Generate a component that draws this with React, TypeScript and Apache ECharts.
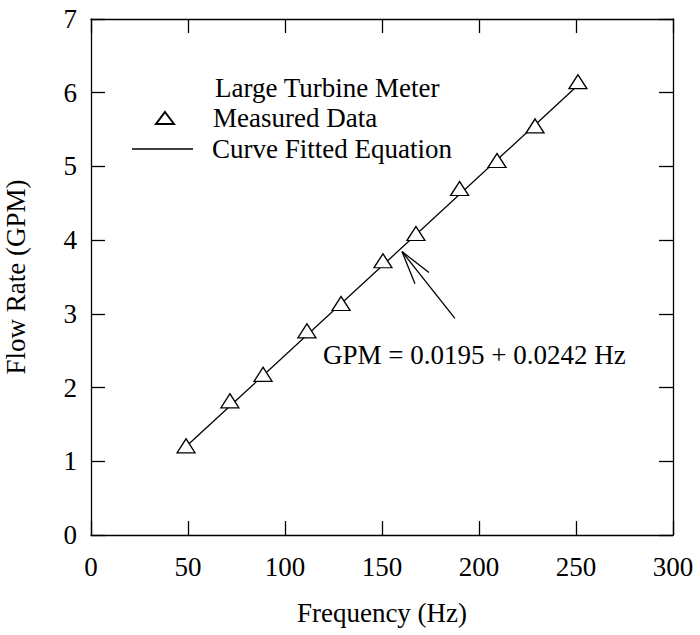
import React, { useEffect, useRef } from "react";
import * as echarts from "echarts";

const frequencyHz = [49, 71.6, 88.7, 111.3, 128.9, 150.5, 167.5, 190, 209.3, 228.9, 251];
const flowGpm = [1.21, 1.82, 2.18, 2.77, 3.14, 3.72, 4.09, 4.7, 5.08, 5.55, 6.15];

// Curve fitted line end points
const fitHz = [49, 251];
const fitGpm = [1.2, 6.1];

// Annotation arrow (data coordinates)
const arrowTip = [160.3, 3.845];
const arrowTail = [187.6, 2.94];
const arrowBarbA = [174.2, 3.56];
const arrowBarbB = [167.0, 3.41];

const legendTitle = "Large Turbine Meter";
const seriesNames = ["Measured Data", "Curve Fitted Equation"];
const equationText = "GPM = 0.0195 + 0.0242 Hz";
const xAxisName = "Frequency (Hz)";
const yAxisName = "Flow Rate (GPM)";

const FONT = "'Liberation Serif', 'Times New Roman', serif";
const FS = 27;
const LH = 25;

export default function App() {
  const ref = useRef<HTMLDivElement>(null);

  useEffect(() => {
    if (!ref.current) return;
    document.body.style.margin = "0";
    const chart = echarts.init(ref.current, undefined, { renderer: "svg" });
    const axisLine = { show: true, onZero: false, lineStyle: { color: "#000", width: 1.3 } };
    const axisTick = { show: true, inside: true, length: 14, lineStyle: { color: "#000", width: 1.3 } };
    const labelStyle = { color: "#000", fontFamily: FONT, fontSize: FS };
    const legendText = { fontFamily: FONT, fontSize: FS, color: "#000", lineHeight: LH };

    const option: any = {
      animation: false,
      backgroundColor: "#fff",
      title: {
        text: legendTitle,
        left: 215,
        top: 75,
        padding: 0,
        textStyle: { fontFamily: FONT, fontSize: FS, fontWeight: "normal", color: "#000", lineHeight: LH },
      },
      legend: [
        {
          orient: "vertical",
          left: 155,
          top: 104.5,
          padding: 0,
          itemWidth: 18,
          itemHeight: 12,
          selectedMode: false,
          data: [{ name: seriesNames[0], icon: "triangle" }],
          textStyle: { ...legendText, padding: [0, 0, 0, 34] },
        },
        {
          orient: "vertical",
          left: 132,
          top: 135.5,
          padding: 0,
          itemWidth: 61,
          itemHeight: 1.3,
          selectedMode: false,
          data: [{ name: seriesNames[1], icon: "rect", itemStyle: { color: "#000" } }],
          textStyle: { ...legendText, padding: [0, 0, 0, 14] },
        },
      ],
      grid: { left: 91, right: 27, top: 19, bottom: 100, containLabel: false, outerBoundsMode: "none" },
      xAxis: [
        {
          type: "value",
          min: 0,
          max: 300,
          interval: 50,
          position: "bottom",
          axisLine,
          axisTick,
          splitLine: { show: false },
          axisLabel: { ...labelStyle, margin: 18 },
          name: xAxisName,
          nameLocation: "middle",
          nameGap: 64,
          nameTextStyle: labelStyle,
        },
        {
          type: "value",
          min: 0,
          max: 300,
          interval: 50,
          position: "top",
          axisLine,
          axisTick,
          splitLine: { show: false },
          axisLabel: { show: false },
        },
      ],
      yAxis: [
        {
          type: "value",
          min: 0,
          max: 7,
          interval: 1,
          position: "left",
          axisLine,
          axisTick,
          splitLine: { show: false },
          axisLabel: { ...labelStyle, margin: 14 },
          name: yAxisName,
          nameLocation: "middle",
          nameGap: 62,
          nameTextStyle: labelStyle,
        },
        {
          type: "value",
          min: 0,
          max: 7,
          interval: 1,
          position: "right",
          axisLine,
          axisTick,
          splitLine: { show: false },
          axisLabel: { show: false },
        },
      ],
      series: [
        {
          name: seriesNames[0],
          type: "scatter",
          symbol: "triangle",
          symbolSize: [18, 14],
          z: 5,
          itemStyle: { color: "#fff", borderColor: "#000", borderWidth: 1.3, opacity: 1 },
          data: frequencyHz.map((f, i) => [f, flowGpm[i]]),
        },
        {
          name: seriesNames[1],
          type: "line",
          symbol: "none",
          z: 3,
          lineStyle: { color: "#000", width: 1.3 },
          itemStyle: { color: "#000" },
          data: fitHz.map((f, i) => [f, fitGpm[i]]),
          markLine: {
            silent: true,
            symbol: ["none", "none"],
            label: { show: false },
            lineStyle: { color: "#000", width: 1.3, type: "solid" },
            emphasis: { disabled: true },
            data: [
              [{ coord: arrowTail }, { coord: arrowTip }],
              [{ coord: arrowTip }, { coord: arrowBarbA }],
              [{ coord: arrowTip }, { coord: arrowBarbB }],
            ],
          },
        },
      ],
      graphic: [
        {
          type: "text",
          left: 323,
          top: 341,
          style: { text: equationText, fontFamily: FONT, fontSize: FS, fill: "#000" },
        },
      ],
    };
    chart.setOption(option);
    return () => chart.dispose();
  }, []);

  return <div ref={ref} style={{ width: 700, height: 635 }} />;
}
